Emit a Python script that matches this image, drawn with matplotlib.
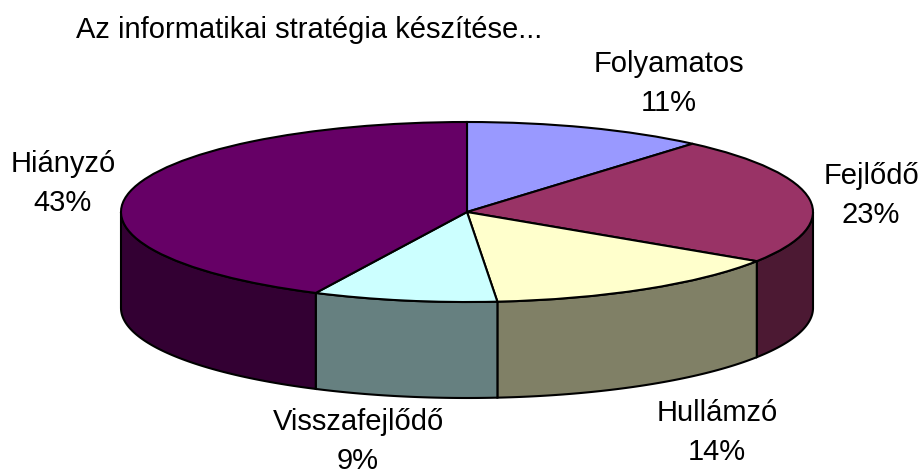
import numpy as np
import matplotlib
matplotlib.use('Agg')
import matplotlib.pyplot as plt

plt.rcParams['font.family'] = ['Liberation Sans', 'DejaVu Sans']

labels = ['Folyamatos', 'Fejlődő', 'Hullámzó', 'Visszafejlődő', 'Hiányzó']
values = [11.3, 22.9, 14.4, 8.6, 42.8]
shown = ['11%', '23%', '14%', '9%', '43%']
top_colors = ['#9999FF', '#993366', '#FFFFCC', '#CCFFFF', '#660066']
side_colors = ['#4C4C80', '#4C1933', '#808066', '#668080', '#330033']
# felirat kozepe es az also sor alapvonala, pixelben
label_pos = [(669, 111), (871, 223), (717, 460), (358, 469), (63, 211)]

W, H = 922, 472
cx, cy = 467, 212
a, b, depth = 346, 90, 96

fig = plt.figure(figsize=(W / 100, H / 100), dpi=100)
ax = fig.add_axes([0, 0, 1, 1])

# kor sugara 1, a tengelyek nyujtjak ellipszisse
d = depth / b
edges = 90 - np.cumsum([0] + values) * 3.6
for i in range(len(values)):
    # oldalfal: csak az also felkor latszik
    lo = max(edges[i + 1], -180)
    hi = min(edges[i], 0)
    if lo < hi:
        t = np.radians(np.linspace(hi, lo, 80))
        x = np.cos(t)
        y = np.sin(t)
        ax.fill(np.r_[x, x[::-1]], np.r_[y, y[::-1] - d],
                facecolor=side_colors[i], edgecolor='black', lw=1.5, zorder=1)

ax.pie(values, startangle=90, counterclock=False, colors=top_colors,
       wedgeprops={'edgecolor': 'black', 'linewidth': 1.5, 'zorder': 2})
ax.set_aspect('auto')
ax.set_xlim(-cx / a, (W - cx) / a)
ax.set_ylim(-(H - cy) / b, cy / b)
ax.axis('off')

fs = 21
fig.text(76 / W, 1 - 30 / H, 'Az informatikai stratégia készítése...',
         fontsize=fs, ha='left', va='center')
for name, pct, (px, py) in zip(labels, shown, label_pos):
    fig.text(px / W, 1 - py / H, name + '\n' + pct, fontsize=fs,
             ha='center', va='baseline', linespacing=1.5)

fig.savefig('out.png', dpi=100, facecolor='white')
